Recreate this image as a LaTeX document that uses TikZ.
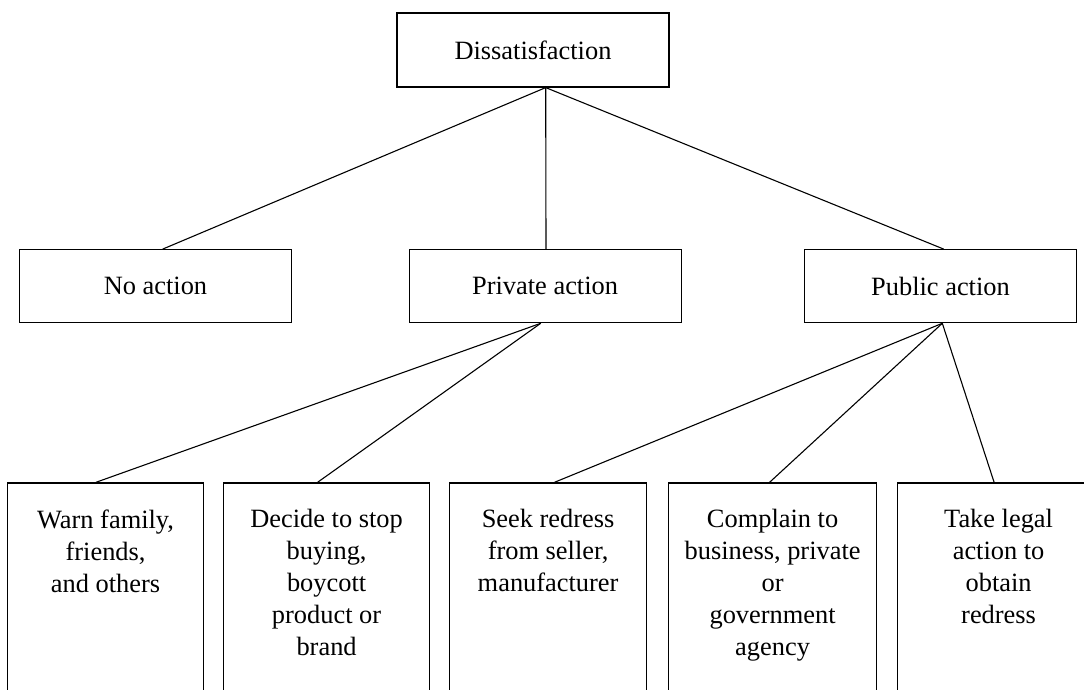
\documentclass[tikz,border=0pt]{standalone}
\usepackage{fontspec}
\setmainfont{Liberation Serif}
\begin{document}
\begin{tikzpicture}[x=1pt,y=-1pt,
  box/.style={draw=black, line width=1.2pt, rectangle, inner sep=0pt, font=\fontsize{26.4}{32}\selectfont},
  topbox/.style={box, minimum width=272pt, minimum height=73pt},
  leafbox/.style={box, anchor=north west, minimum height=240pt},
  lbl/.style={anchor=north, align=center, inner sep=0pt, yshift=-27pt, font=\fontsize{26.4}{32}\selectfont},
  conn/.style={draw=black, line width=1.1pt}]
\useasboundingbox (0,0) rectangle (1084,690);
\clip (0,0) rectangle (1084,690);
\node[topbox, minimum height=74pt] (d) at (533,50) {Dissatisfaction};
\node[topbox] (na) at (155.5,286.2) {No action};
\node[topbox] (pa) at (545.1,286.2) {Private action};
\node[topbox] (pu) at (940.5,286.2) {Public action};
\node[leafbox, minimum width=196pt, label={[lbl]north:Warn family,\\friends,\\and others}] (w1) at (7,482.3) {};
\node[leafbox, minimum width=206pt, label={[lbl]north:Decide to stop\\buying,\\boycott\\product or\\brand}] (w2) at (223,482.3) {};
\node[leafbox, minimum width=197pt, label={[lbl]north:Seek redress\\from seller,\\manufacturer}] (w3) at (449,482.3) {};
\node[leafbox, minimum width=208pt, label={[lbl]north:Complain to\\business, private\\or\\government\\agency}] (w4) at (668,482.3) {};
\node[leafbox, minimum width=202pt, label={[lbl]north:Take legal\\action to\\obtain\\redress}] (w5) at (897,482.3) {};
\path[conn] ([xshift=12.7pt]d.south) -- ([xshift=7.2pt]na.north);
\path[conn] ([xshift=12.7pt]d.south) -- ([xshift=0.9pt]pa.north);
\path[conn] ([xshift=12.7pt]d.south) -- ([xshift=3.2pt]pu.north);
\path[conn] ([xshift=-4.4pt]pa.south) -- ([xshift=-9.6pt]w1.north);
\path[conn] ([xshift=-4.4pt]pa.south) -- ([xshift=-9pt]w2.north);
\path[conn] ([xshift=1.8pt]pu.south) -- ([xshift=6.4pt]w3.north);
\path[conn] ([xshift=1.8pt]pu.south) -- ([xshift=-3pt]w4.north);
\path[conn] ([xshift=1.8pt]pu.south) -- ([xshift=-4.5pt]w5.north);
\end{tikzpicture}
\end{document}
